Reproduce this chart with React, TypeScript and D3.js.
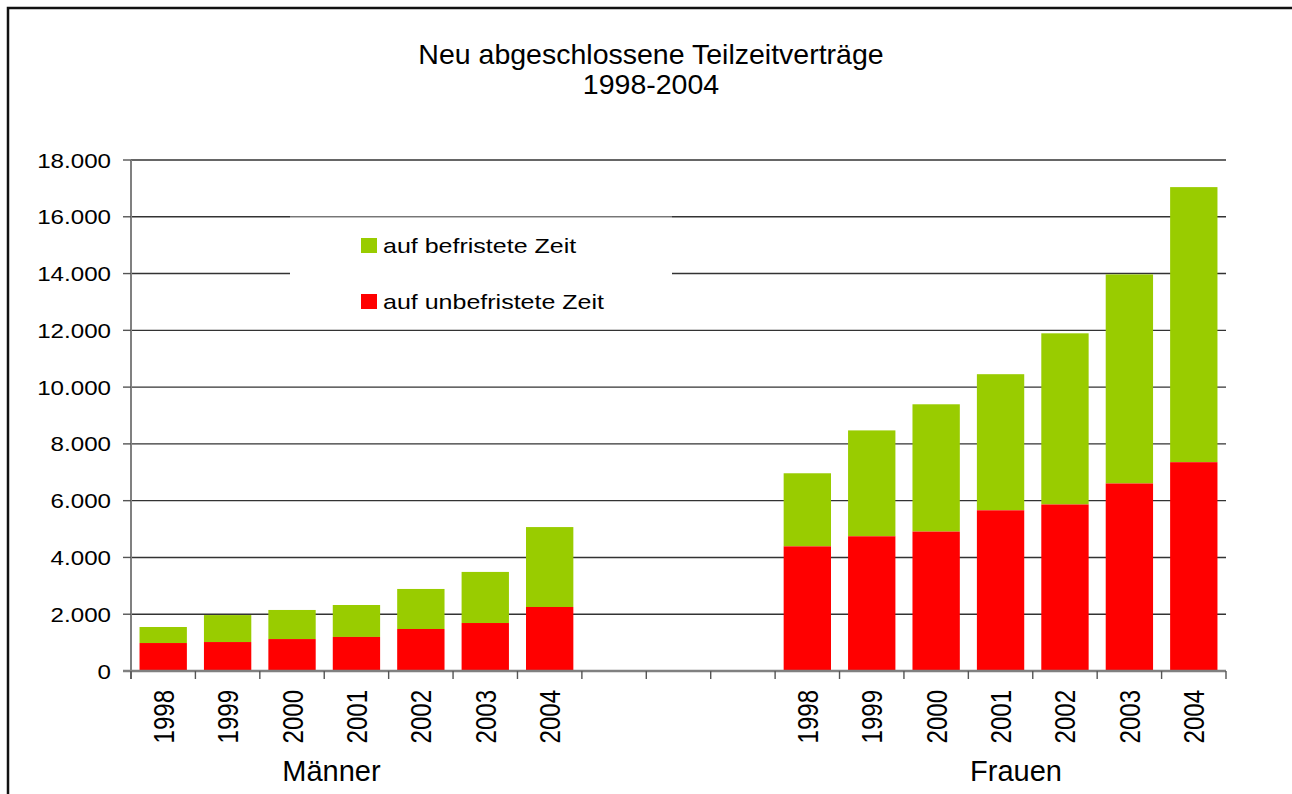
import React from 'react';
import * as d3 from 'd3';

const years = ['1998', '1999', '2000', '2001', '2002', '2003', '2004'];
const groups = ['Männer', 'Frauen'];

// totals (top of stacked bar) and permanent part (red)
const maennerTotal = [1550, 1970, 2150, 2325, 2890, 3490, 5070];
const maennerUnbefristet = [985, 1020, 1125, 1200, 1480, 1690, 2255];
const frauenTotal = [6965, 8475, 9395, 10455, 11895, 13970, 17045];
const frauenUnbefristet = [4390, 4745, 4910, 5660, 5865, 6605, 7355];

const yTicks = [0, 2000, 4000, 6000, 8000, 10000, 12000, 14000, 16000, 18000];
const seriesNames = ['auf befristete Zeit', 'auf unbefristete Zeit'];
const colors = ['#99CC00', '#FF0000'];

const W = 1292;
const H = 794;
const plot = { left: 131, right: 1226, top: 160, bottom: 671 };

const locale = d3.formatLocale({ decimal: ',', thousands: '.', grouping: [3], currency: ['', '€'] });
const fmt = locale.format(',');

type Slot = { key: string; year: string | null; total: number; unbef: number };

const slots: Slot[] = [
  ...years.map((y, i) => ({ key: 'M' + y, year: y, total: maennerTotal[i], unbef: maennerUnbefristet[i] })),
  ...[1, 2, 3].map((g) => ({ key: 'gap' + g, year: null, total: 0, unbef: 0 })),
  ...years.map((y, i) => ({ key: 'F' + y, year: y, total: frauenTotal[i], unbef: frauenUnbefristet[i] })),
];

export default function App() {
  const x = d3
    .scaleBand<string>()
    .domain(slots.map((s) => s.key))
    .range([plot.left, plot.right])
    .paddingInner(0.265)
    .paddingOuter(0.1325);
  const slotScale = d3.scaleBand<string>().domain(slots.map((s) => s.key)).range([plot.left, plot.right]);
  const y = d3.scaleLinear().domain([0, 18000]).range([plot.bottom, plot.top]);

  const tickXs = slots.map((s) => slotScale(s.key)!).concat([plot.right]);
  const font = 'Arial, "Liberation Sans", sans-serif';

  return (
    <svg width={W} height={H} style={{ position: 'absolute', left: 0, top: 0 }} fontFamily={font}>
      <rect width={W} height={H} fill="#fff" />
      {/* outer frame */}
      <path d={`M8,${H} L8,8 L${W},8`} fill="none" stroke="#111" strokeWidth={2.5} />

      {/* title */}
      <text x={651} y={64} textAnchor="middle" fontSize={28.5}>
        Neu abgeschlossene Teilzeitverträge
      </text>
      <text x={651} y={94} textAnchor="middle" fontSize={28.5}>
        1998-2004
      </text>

      {/* gridlines */}
      {yTicks.slice(1).map((t) => (
        <line key={t} x1={plot.left} x2={plot.right} y1={y(t)} y2={y(t)} stroke="#333" strokeWidth={1.4} />
      ))}

      {/* legend box */}
      <rect x={290} y={217.6} width={382} height={110} fill="#fff" />
      <line x1={290} x2={672} y1={217} y2={217} stroke="#bbb" strokeWidth={1} />
      {seriesNames.map((name, i) => (
        <g key={name}>
          <rect x={361} y={238 + i * 56} width={16} height={15} fill={colors[i]} />
          <text transform={`translate(383,${253 + i * 56}) scale(1.22,1)`} fontSize={20.5}>
            {name}
          </text>
        </g>
      ))}

      {/* bars */}
      {slots
        .filter((s) => s.year)
        .map((s) => (
          <g key={s.key}>
            <rect
              x={x(s.key)}
              width={x.bandwidth()}
              y={y(s.total)}
              height={y(s.unbef) - y(s.total)}
              fill={colors[0]}
            />
            <rect x={x(s.key)} width={x.bandwidth()} y={y(s.unbef)} height={y(0) - y(s.unbef)} fill={colors[1]} />
          </g>
        ))}

      {/* y axis */}
      <line x1={plot.left} x2={plot.left} y1={plot.top} y2={plot.bottom + 8} stroke="#808080" strokeWidth={2} />
      {yTicks.map((t) => (
        <g key={t}>
          <line x1={plot.left - 8} x2={plot.left} y1={y(t)} y2={y(t)} stroke="#555" strokeWidth={1.4} />
          <text
            transform={`translate(111,${y(t) + 7.5}) scale(1.15,1)`}
            textAnchor="end"
            fontSize={21}
          >
            {fmt(t)}
          </text>
        </g>
      ))}

      {/* x axis */}
      <line x1={plot.left - 8} x2={plot.right} y1={plot.bottom} y2={plot.bottom} stroke="#808080" strokeWidth={2.5} />
      {tickXs.map((tx, i) => (
        <line key={i} x1={tx} x2={tx} y1={plot.bottom} y2={plot.bottom + 8} stroke="#555" strokeWidth={1.4} />
      ))}
      {slots
        .filter((s) => s.year)
        .map((s) => (
          <text
            key={s.key}
            transform={`translate(${slotScale(s.key)! + slotScale.bandwidth() / 2 + 10.5},690) rotate(-90) scale(1,1.25)`}
            textAnchor="end"
            fontSize={24}
          >
            {s.year}
          </text>
        ))}

      {/* group labels */}
      <text x={331.5} y={781} textAnchor="middle" fontSize={29}>
        {groups[0]}
      </text>
      <text x={1016} y={781} textAnchor="middle" fontSize={29}>
        {groups[1]}
      </text>
    </svg>
  );
}
